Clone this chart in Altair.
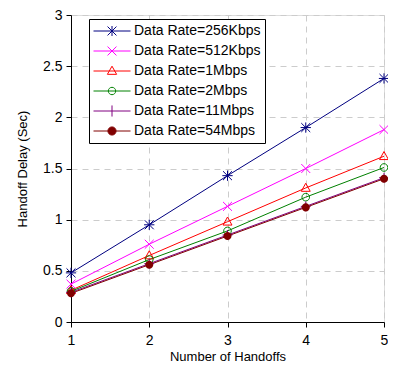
import altair as alt
import pandas as pd

handoffs = [1, 2, 3, 4, 5]
series = ["Data Rate=256Kbps", "Data Rate=512Kbps", "Data Rate=1Mbps",
          "Data Rate=2Mbps", "Data Rate=11Mbps", "Data Rate=54Mbps"]
delay_256k = [0.48, 0.95, 1.43, 1.90, 2.38]
delay_512k = [0.37, 0.76, 1.13, 1.50, 1.88]
delay_1m = [0.31, 0.65, 0.98, 1.31, 1.62]
delay_2m = [0.30, 0.61, 0.89, 1.22, 1.51]
delay_11m = [0.29, 0.57, 0.85, 1.13, 1.41]
delay_54m = [0.28, 0.56, 0.84, 1.12, 1.40]
colors = ["#000080", "#ff00ff", "#ff0000", "#008000", "#800080", "#800000"]
fills = ["transparent", "transparent", "transparent", "transparent", "transparent", "#800000"]
y_ticks = [0, 0.5, 1, 1.5, 2, 2.5, 3]

values = [delay_256k, delay_512k, delay_1m, delay_2m, delay_11m, delay_54m]
rows = []
for s, vals in zip(series, values):
    for h, v in zip(handoffs, vals):
        rows.append({"series": s, "handoffs": h, "delay": v})
df = pd.DataFrame(rows)

# marker shapes on the plot
mark_paths = [
    "M-1,-1L1,1M-1,1L1,-1M0,-1.15L0,1.15M-1.15,0L1.15,0",
    "M-1,-1L1,1M-1,1L1,-1",
    "M0,-1.05L1,0.75L-1,0.75Z",
    "M0.85,0A0.85,0.85,0,1,1,-0.85,0A0.85,0.85,0,1,1,0.85,0",
    "M0,-1.1L0,1.1M-1.1,0L1.1,0",
    "M0.9,0A0.9,0.9,0,1,1,-0.9,0A0.9,0.9,0,1,1,0.9,0",
]
# legend symbols: short line + marker
leg_paths = [
    "M-1,0L1,0M-0.24,-0.24L0.24,0.24M-0.24,0.24L0.24,-0.24M0,-0.27L0,0.27",
    "M-1,0L1,0M-0.24,-0.24L0.24,0.24M-0.24,0.24L0.24,-0.24",
    "M-1,0L1,0M0,-0.26L0.25,0.18L-0.25,0.18Z",
    "M-1,0L1,0M0.2,0A0.2,0.2,0,1,1,-0.2,0A0.2,0.2,0,1,1,0.2,0",
    "M-1,0L1,0M0,-0.3L0,0.3",
    "M-1,0L1,0M0.22,0A0.22,0.22,0,1,1,-0.22,0A0.22,0.22,0,1,1,0.22,0",
]

FONT = "Liberation Sans"

legend = alt.Legend(
    orient="none", legendX=18, legendY=4, title=None,
    strokeColor="black", fillColor="white", padding=4,
    symbolSize=1369, symbolStrokeWidth=1, symbolOpacity=1,
    labelFont=FONT, labelFontSize=14, labelColor="black",
    labelOffset=3, rowPadding=4, clipHeight=16,
)

axis_common = dict(tickSize=5, labelFontSize=14, titleFontSize=13, titleFontWeight="normal",
                   labelFont=FONT, titleFont=FONT, labelColor="black", titleColor="black",
                   domainColor="black", tickColor="black",
                   gridColor="#cccccc", gridDash=[6, 5], gridWidth=1, labelFlush=False)
x_enc = alt.X("handoffs:Q", scale=alt.Scale(domain=[1, 5], nice=False),
              axis=alt.Axis(values=handoffs, title="Number of Handoffs", format="d",
                            labelPadding=6, titlePadding=3, **axis_common))
y_enc = alt.Y("delay:Q", scale=alt.Scale(domain=[0, 3], nice=False),
              axis=alt.Axis(values=y_ticks, title="Handoff Delay (Sec)", format="~g",
                            labelPadding=4, titlePadding=13, **axis_common))

base = alt.Chart(df)

line_layers = []
marker_layers = []
for s, c, f, p in zip(series, colors, fills, mark_paths):
    sub = base.transform_filter(alt.datum.series == s)
    line_layers.append(
        sub.mark_line(strokeWidth=1, color=c).encode(x=x_enc, y=y_enc)
    )
    marker_layers.append(
        sub.mark_point(shape=p, size=80, strokeWidth=1, opacity=1,
                       filled=(f != "transparent"), color=c).encode(x=x_enc, y=y_enc)
    )

# layer that only carries the legend (line + marker symbols); its points have zero size
legend_layer = base.mark_point(filled=False, size=0).encode(
    x=x_enc, y=y_enc,
    color=alt.Color("series:N", scale=alt.Scale(domain=series, range=colors),
                    sort=None, legend=legend),
    shape=alt.Shape("series:N", scale=alt.Scale(domain=series, range=leg_paths),
                    sort=None, legend=legend),
    fill=alt.Fill("series:N", scale=alt.Scale(domain=series, range=fills),
                  sort=None, legend=legend),
)

chart = alt.layer(*line_layers, *marker_layers, legend_layer).properties(
    width=313, height=307,
    autosize=alt.AutoSizeParams(type="none"),
    padding={"left": 63, "top": 7, "right": 4, "bottom": 42},
).configure_view(stroke=None).configure(background="white")

chart.save("out.html", embed_options={"renderer": "svg", "actions": False})
